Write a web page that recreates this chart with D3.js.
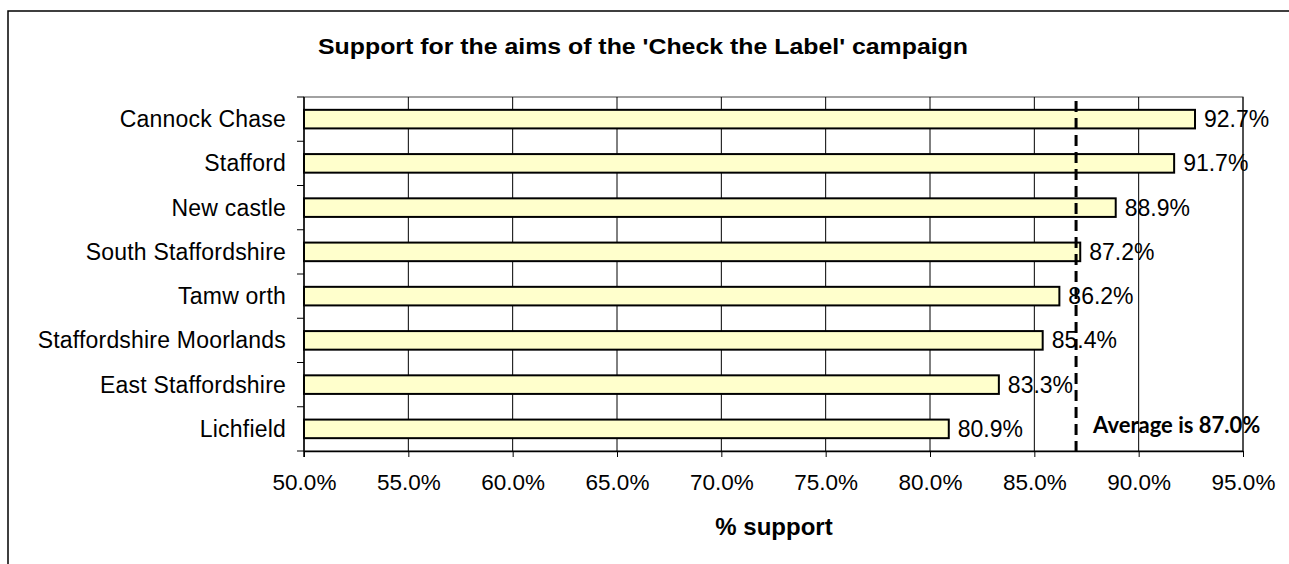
<!DOCTYPE html>
<html>
<head>
<meta charset="utf-8">
<script src="https://cdn.jsdelivr.net/npm/d3@7"></script>
<style>
  body { margin: 0; background: #fff; }
  text { font-family: "Liberation Sans", Arial, sans-serif; fill: #000; }
</style>
</head>
<body>
<svg id="chart" width="1289" height="564"></svg>
<script>
const areas = ["Cannock Chase", "Stafford", "New castle", "South Staffordshire", "Tamw orth",
               "Staffordshire Moorlands", "East Staffordshire", "Lichfield"];
const support = [92.7, 91.7, 88.9, 87.2, 86.2, 85.4, 83.3, 80.9];
const xTicks = [50, 55, 60, 65, 70, 75, 80, 85, 90, 95];
const average = 87.0;
const chartTitle = "Support for the aims of the 'Check the Label' campaign";
const xTitle = "% support";

const svg = d3.select("#chart");
const plot = { left: 304, right: 1243, top: 97, bottom: 451 };
const labelSize = 22.5;

const x = d3.scaleLinear().domain([50, 95]).range([plot.left, plot.right]);
const y = d3.scaleBand().domain(areas).range([plot.top, plot.bottom]).paddingInner(0.58).paddingOuter(0.29);

// outer frame (top + left only visible)
svg.append("path")
    .attr("d", "M8,564 L8,11 L1289,11")
    .attr("fill", "none")
    .attr("stroke", "#000")
    .attr("stroke-width", 1.5);

svg.append("text")
    .attr("x", 643)
    .attr("y", 46)
    .attr("text-anchor", "middle")
    .attr("dominant-baseline", "central")
    .attr("font-size", 22)
    .attr("font-weight", "bold")
    .attr("textLength", 650)
    .attr("lengthAdjust", "spacingAndGlyphs")
    .text(chartTitle);

// plot frame
svg.append("rect")
    .attr("x", plot.left)
    .attr("y", plot.top)
    .attr("width", plot.right - plot.left)
    .attr("height", plot.bottom - plot.top)
    .attr("fill", "none")
    .attr("stroke", "#444")
    .attr("stroke-width", 1);

// vertical gridlines
svg.append("g")
    .selectAll("line")
    .data(xTicks.slice(1))
    .enter()
    .append("line")
    .attr("x1", d => x(d))
    .attr("x2", d => x(d))
    .attr("y1", plot.top)
    .attr("y2", plot.bottom)
    .attr("stroke", "#000")
    .attr("stroke-width", 1);

// bars
svg.append("g")
    .selectAll("rect")
    .data(areas)
    .enter()
    .append("rect")
    .attr("x", x(50))
    .attr("y", d => y(d))
    .attr("width", (d, i) => x(support[i]) - x(50))
    .attr("height", y.bandwidth())
    .attr("fill", "#ffffcc")
    .attr("stroke", "#000")
    .attr("stroke-width", 2);

// value labels
svg.append("g")
    .selectAll("text")
    .data(areas)
    .enter()
    .append("text")
    .attr("x", (d, i) => x(support[i]) + 9)
    .attr("y", d => y(d) + y.bandwidth() / 2)
    .attr("dominant-baseline", "central")
    .attr("font-size", 23)
    .text((d, i) => support[i].toFixed(1) + "%");

// average line
svg.append("line")
    .attr("x1", x(average))
    .attr("x2", x(average))
    .attr("y1", plot.top + 4)
    .attr("y2", plot.bottom + 2)
    .attr("stroke", "#000")
    .attr("stroke-width", 3)
    .style("stroke-dasharray", "11,6");

svg.append("text")
    .attr("x", x(average) + 17)
    .attr("y", 424)
    .attr("dominant-baseline", "central")
    .attr("font-size", 22)
    .attr("font-weight", "bold")
    .style("font-family", "Lato, 'Liberation Sans', sans-serif")
    .text("Average is " + average.toFixed(1) + "%");

// y axis
const yAxis = svg.append("g")
    .attr("transform", "translate(" + plot.left + ",0)");
yAxis.append("line")
    .attr("x1", 0).attr("x2", 0)
    .attr("y1", plot.top).attr("y2", plot.bottom + 6)
    .attr("stroke", "#000")
    .attr("stroke-width", 1.5);
yAxis.selectAll(".tk")
    .data(d3.range(areas.length + 1))
    .enter()
    .append("line")
    .attr("x1", -7).attr("x2", 0)
    .attr("y1", i => plot.top + i * (plot.bottom - plot.top) / areas.length)
    .attr("y2", i => plot.top + i * (plot.bottom - plot.top) / areas.length)
    .attr("stroke", "#000");
yAxis.selectAll("text")
    .data(areas)
    .enter()
    .append("text")
    .attr("x", -18)
    .attr("y", d => y(d) + y.bandwidth() / 2)
    .attr("text-anchor", "end")
    .attr("dominant-baseline", "central")
    .attr("font-size", 23)
    .style("letter-spacing", "0.2px")
    .text(d => d);

// x axis
const xAxis = svg.append("g")
    .attr("transform", "translate(0," + plot.bottom + ")")
    .call(d3.axisBottom(x).tickValues(xTicks).tickSize(6).tickSizeOuter(0).tickFormat(d => d.toFixed(1) + "%"));
xAxis.select(".domain").attr("stroke", "#000").attr("stroke-width", 1.5);
xAxis.selectAll(".tick line").attr("stroke", "#000");
xAxis.selectAll(".tick text")
    .attr("y", 23)
    .attr("dy", "0.71em")
    .attr("font-size", labelSize)
    .style("font-family", "'Liberation Sans', Arial, sans-serif");

svg.append("text")
    .attr("x", 774)
    .attr("y", 526)
    .attr("text-anchor", "middle")
    .attr("dominant-baseline", "central")
    .attr("font-size", 24)
    .attr("font-weight", "bold")
    .text(xTitle);
</script>
</body>
</html>
